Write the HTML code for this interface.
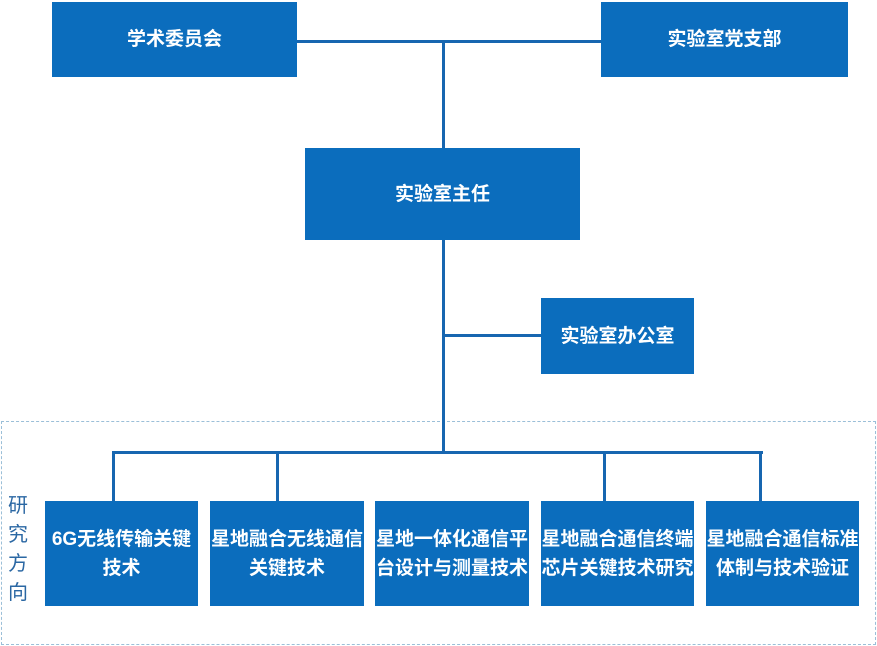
<!DOCTYPE html>
<html><head><meta charset="utf-8"><style>
html,body{margin:0;padding:0;background:#fff;}
body{width:877px;height:646px;position:relative;overflow:hidden;font-family:"Liberation Sans","Noto Sans CJK SC",sans-serif;}
.b{position:absolute;background:#0b6dbd;color:#fff;font-weight:bold;font-size:19px;display:flex;align-items:center;justify-content:center;text-align:center;line-height:29px;}
.l{position:absolute;background:#1766b0;}
.d{position:absolute;left:1px;top:421px;width:873px;height:222px;border:1px dashed #9bbfd8;}
.v{position:absolute;left:8px;top:492px;width:22px;font-size:20px;line-height:29px;color:#2a67a3;}
</style></head><body>
<div class="d"></div>
<div class="v">研<br>究<br>方<br>向</div>
<div class="l" style="left:297px;top:40px;width:304px;height:3px"></div>
<div class="l" style="left:442px;top:41px;width:3px;height:108px"></div>
<div class="l" style="left:442px;top:240px;width:3px;height:213px"></div>
<div class="l" style="left:442px;top:334px;width:100px;height:3px"></div>
<div class="l" style="left:112px;top:451px;width:651px;height:3px"></div>
<div class="l" style="left:112px;top:451px;width:3px;height:51px"></div>
<div class="l" style="left:276px;top:451px;width:3px;height:51px"></div>
<div class="l" style="left:603px;top:451px;width:3px;height:51px"></div>
<div class="l" style="left:759px;top:451px;width:3px;height:51px"></div>
<div class="b" style="left:52px;top:2px;width:245px;height:75px">学术委员会</div>
<div class="b" style="left:601px;top:2px;width:247px;height:75px">实验室党支部</div>
<div class="b" style="left:305px;top:148px;width:275px;height:92px">实验室主任</div>
<div class="b" style="left:541px;top:298px;width:153px;height:76px">实验室办公室</div>
<div class="b" style="left:45px;top:501px;width:153px;height:105px">6G无线传输关键<br>技术</div>
<div class="b" style="left:210px;top:501px;width:154px;height:105px">星地融合无线通信<br>关键技术</div>
<div class="b" style="left:375px;top:501px;width:154px;height:105px">星地一体化通信平<br>台设计与测量技术</div>
<div class="b" style="left:541px;top:501px;width:153px;height:105px">星地融合通信终端<br>芯片关键技术研究</div>
<div class="b" style="left:706px;top:501px;width:153px;height:105px">星地融合通信标准<br>体制与技术验证</div>
</body></html>
